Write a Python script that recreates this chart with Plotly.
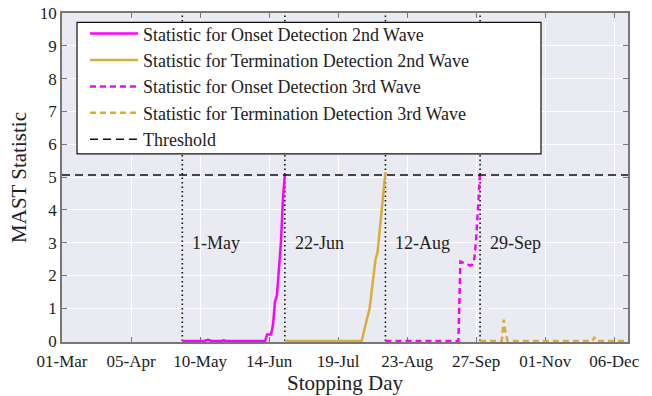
import plotly.graph_objects as go

# ---------------- data ----------------
onset2_dates = ["2020-05-01", "2020-05-12", "2020-05-14", "2020-05-16", "2020-05-21", "2020-05-22",
                "2020-05-23", "2020-06-12", "2020-06-13", "2020-06-15", "2020-06-16", "2020-06-17",
                "2020-06-18", "2020-06-19", "2020-06-20", "2020-06-21", "2020-06-22"]
onset2_vals = [0, 0, 0.04, 0, 0, 0.02, 0, 0, 0.2, 0.2, 0.5, 1.2, 1.4, 2.3, 3.0, 4.3, 5.1]

term2_dates = ["2020-06-22", "2020-07-31", "2020-08-02", "2020-08-04", "2020-08-06", "2020-08-07",
               "2020-08-08", "2020-08-09", "2020-08-10", "2020-08-11", "2020-08-12"]
term2_vals = [0, 0, 0.52, 1.0, 2.0, 2.5, 2.7, 3.3, 4.0, 4.6, 5.15]

onset3_dates = ["2020-08-12", "2020-09-18", "2020-09-19", "2020-09-20", "2020-09-24", "2020-09-25",
                "2020-09-26", "2020-09-27", "2020-09-28", "2020-09-29"]
onset3_vals = [0, 0, 2.42, 2.4, 2.3, 2.33, 2.45, 3.1, 4.3, 5.17]

term3_dates = ["2020-09-29", "2020-10-10", "2020-10-11", "2020-10-12", "2020-10-13", "2020-11-25",
               "2020-11-26", "2020-11-27", "2020-12-12"]
term3_vals = [0, 0, 0.65, 0.2, 0, 0, 0.12, 0, 0]

threshold_value = 5.06
x_range = ["2020-03-01", "2020-12-13"]

event_dates = ["2020-05-01", "2020-06-22", "2020-08-12", "2020-09-29"]
event_labels = ["1-May", "22-Jun", "12-Aug", "29-Sep"]

tick_dates = ["2020-03-01", "2020-04-05", "2020-05-10", "2020-06-14", "2020-07-19",
              "2020-08-23", "2020-09-27", "2020-11-01", "2020-12-06"]
tick_labels = ["01-Mar", "05-Apr", "10-May", "14-Jun", "19-Jul", "23-Aug", "27-Sep", "01-Nov", "06-Dec"]

y_ticks = list(range(0, 11))

# ---------------- styles ----------------
FONT = "Liberation Serif, Times New Roman, serif"
MAGENTA = "#FF00FF"
GOLD = "#D8AE3A"
TXT = "#222222"

fig = go.Figure()

# vertical event lines (dotted)
for d in event_dates:
    fig.add_trace(go.Scatter(x=[d, d], y=[0, 10], mode="lines",
                             line=dict(color="#111111", width=1.6, dash="1.5px,3px"),
                             showlegend=False, hoverinfo="skip"))

fig.add_trace(go.Scatter(x=onset2_dates, y=onset2_vals, mode="lines",
                         name="Statistic for Onset Detection 2nd Wave",
                         line=dict(color=MAGENTA, width=2.5)))
fig.add_trace(go.Scatter(x=term2_dates, y=term2_vals, mode="lines",
                         name="Statistic for Termination Detection 2nd Wave",
                         line=dict(color=GOLD, width=2.5)))
fig.add_trace(go.Scatter(x=onset3_dates, y=onset3_vals, mode="lines",
                         name="Statistic for Onset Detection 3rd Wave",
                         line=dict(color=MAGENTA, width=2.5, dash="6px,4px")))
fig.add_trace(go.Scatter(x=term3_dates, y=term3_vals, mode="lines",
                         name="Statistic for Termination Detection 3rd Wave",
                         line=dict(color=GOLD, width=2.5, dash="6px,4px")))
fig.add_trace(go.Scatter(x=x_range, y=[threshold_value, threshold_value], mode="lines",
                         name="Threshold",
                         line=dict(color="#111111", width=1.6, dash="8px,5px")))

for d, lab in zip(event_dates, event_labels):
    fig.add_annotation(x=d, y=3.0, text=lab, showarrow=False, xanchor="left", yanchor="middle",
                       xshift=8, font=dict(family=FONT, size=18, color=TXT))

# legend box drawn as a shape
fig.add_shape(type="rect", xref="paper", yref="paper", x0=0.0265, x1=0.8463, y0=0.572, y1=0.9714,
              fillcolor="white", line=dict(color="#111111", width=1.2), layer="above")

fig.update_layout(
    width=652, height=396,
    margin=dict(l=62, r=24, t=13, b=54),
    paper_bgcolor="white", plot_bgcolor="#EAEAF2",
    font=dict(family=FONT, size=17, color=TXT),
    showlegend=True,
    legend=dict(x=0.0406, y=0.9927, xanchor="left", yanchor="top",
                bgcolor="rgba(0,0,0,0)", borderwidth=0,
                font=dict(family=FONT, size=18, color=TXT),
                itemwidth=48, tracegroupgap=0),
)
fig.update_xaxes(range=x_range, tickmode="array", tickvals=tick_dates, ticktext=tick_labels,
                 showgrid=True, gridcolor="white", gridwidth=1.2, automargin=False,
                 showline=True, linecolor="#777777", linewidth=1.6, mirror="allticks",
                 ticks="inside", ticklen=5, tickcolor="#777777", tickwidth=1.4,
                 zeroline=False, layer="below traces", ticklabelstandoff=3,
                 title=dict(text="Stopping Day", standoff=5,
                            font=dict(family=FONT, size=21, color=TXT)),
                 tickfont=dict(family=FONT, size=17, color=TXT))
fig.update_yaxes(range=[-0.03, 10], tickmode="array", tickvals=y_ticks,
                 showgrid=True, gridcolor="white", gridwidth=1.2, automargin=False,
                 showline=True, linecolor="#777777", linewidth=1.6, mirror="allticks",
                 ticks="inside", ticklen=5, tickcolor="#777777", tickwidth=1.4,
                 zeroline=False, layer="below traces",
                 title=dict(text="MAST Statistic", standoff=7,
                            font=dict(family=FONT, size=21, color=TXT)),
                 tickfont=dict(family=FONT, size=17, color=TXT))

fig.write_html("out.html")
